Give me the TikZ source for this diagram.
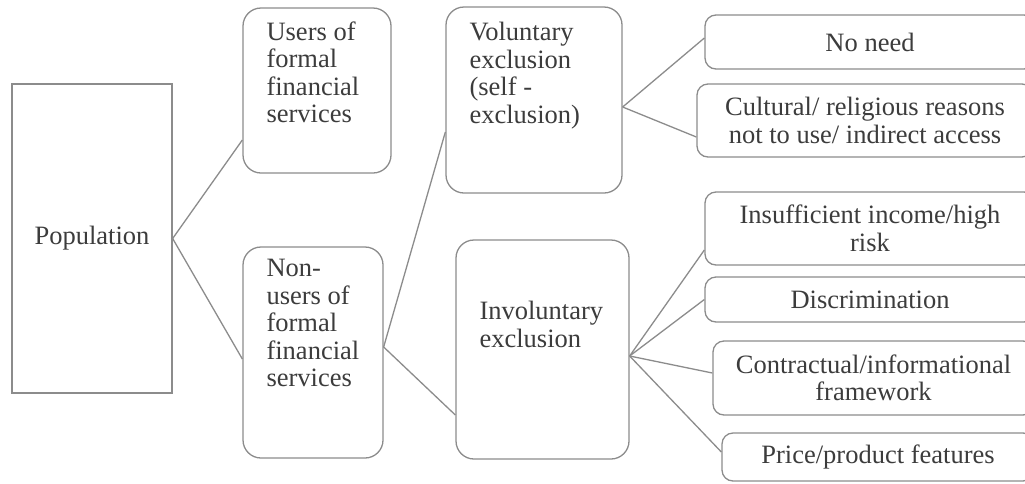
\documentclass[tikz,border=0pt]{standalone}
\usepackage{fontspec}
\setmainfont{Liberation Serif}
\definecolor{linegray}{HTML}{8C8C8C}
\definecolor{textgray}{HTML}{3C3C3C}
\tikzset{
    box/.style={draw=linegray, line width=1.3pt, inner sep=0pt, rounded corners=18pt},
    rbox/.style={box, rounded corners=11pt, align=center, text=textgray,
        font=\fontsize{26.5}{27.5}\selectfont},
    txt/.style={anchor=north west, inner sep=0pt, align=left, text=textgray,
        font=\fontsize{26.5}{27.5}\selectfont},
    link/.style={draw=linegray, line width=1.3pt},
}

\begin{document}
\begin{tikzpicture}[x=1pt, y=-1pt]

    \clip (0,0) rectangle (1025,483);
    \fill[white] (0,0) rectangle (1025,483);

    \node[box, rounded corners=0pt, minimum width=160pt, minimum height=309pt,
        text=textgray, font=\fontsize{26.5}{27.5}\selectfont] (pop) at (92,238.5) {Population};

    \node[box, minimum width=148pt, minimum height=165pt] (users) at (317,90.5) {};
    \node[box, minimum width=140pt, minimum height=211pt] (nonusers) at (313,352.5) {};
    \node[box, minimum width=176pt, minimum height=186pt] (vol) at (534,100) {};
    \node[box, minimum width=173pt, minimum height=219pt] (invol) at (542.5,349.5) {};

    \node[txt] (users-t) at ([shift={(24pt,-14pt)}]users.north west) {Users of\\formal\\financial\\services};
    \node[txt] (nonusers-t) at ([shift={(24pt,-13pt)}]nonusers.north west) {Non-\\users of\\formal\\financial\\services};
    \node[txt] (vol-t) at ([shift={(24pt,-16pt)}]vol.north west) {Voluntary\\exclusion\\(self -\\exclusion)};
    \node[txt] (invol-t) at ([shift={(24pt,-62pt)}]invol.north west) {Involuntary\\exclusion};

    \node[rbox, minimum width=330pt, minimum height=54pt] (noneed) at (870,42) {No need};
    \node[rbox, minimum width=336pt, minimum height=73pt] (cultural) at (865,120.5) {Cultural/ religious reasons\\not to use/ indirect access};
    \node[rbox, minimum width=330pt, minimum height=73pt] (insuff) at (870,228.5) {Insufficient income/high\\risk};
    \node[rbox, minimum width=330pt, minimum height=45pt] (discr) at (870,299.5) {Discrimination};
    \node[rbox, minimum width=321pt, minimum height=74pt] (contract) at (873.5,378) {Contractual/informational\\framework};
    \node[rbox, minimum width=312pt, minimum height=48pt] (price) at (878,457) {Price/product features};

    % connectors
    \draw[link] (pop.east) -- ([yshift=-49.5pt]users.west);
    \draw[link] (pop.east) -- ([yshift=-6.5pt]nonusers.west);

    \draw[link] ([yshift=5.5pt]nonusers.east) -- ([yshift=-32pt]vol.west);
    \draw[link] ([yshift=5.5pt]nonusers.east) -- ([yshift=-65.5pt]invol.west);

    \draw[link] ([yshift=-7pt]vol.east) -- ([yshift=4pt]noneed.west);
    \draw[link] ([yshift=-7pt]vol.east) -- ([yshift=-16.5pt]cultural.west);

    \coordinate (hub) at ([yshift=-6.5pt]invol.east);
    \foreach \n/\s in {insuff/-21.5, discr/0, contract/5, price/5} {
        \draw[link] (hub) -- ([yshift=\s pt]\n.west);
    }
\end{tikzpicture}
\end{document}
